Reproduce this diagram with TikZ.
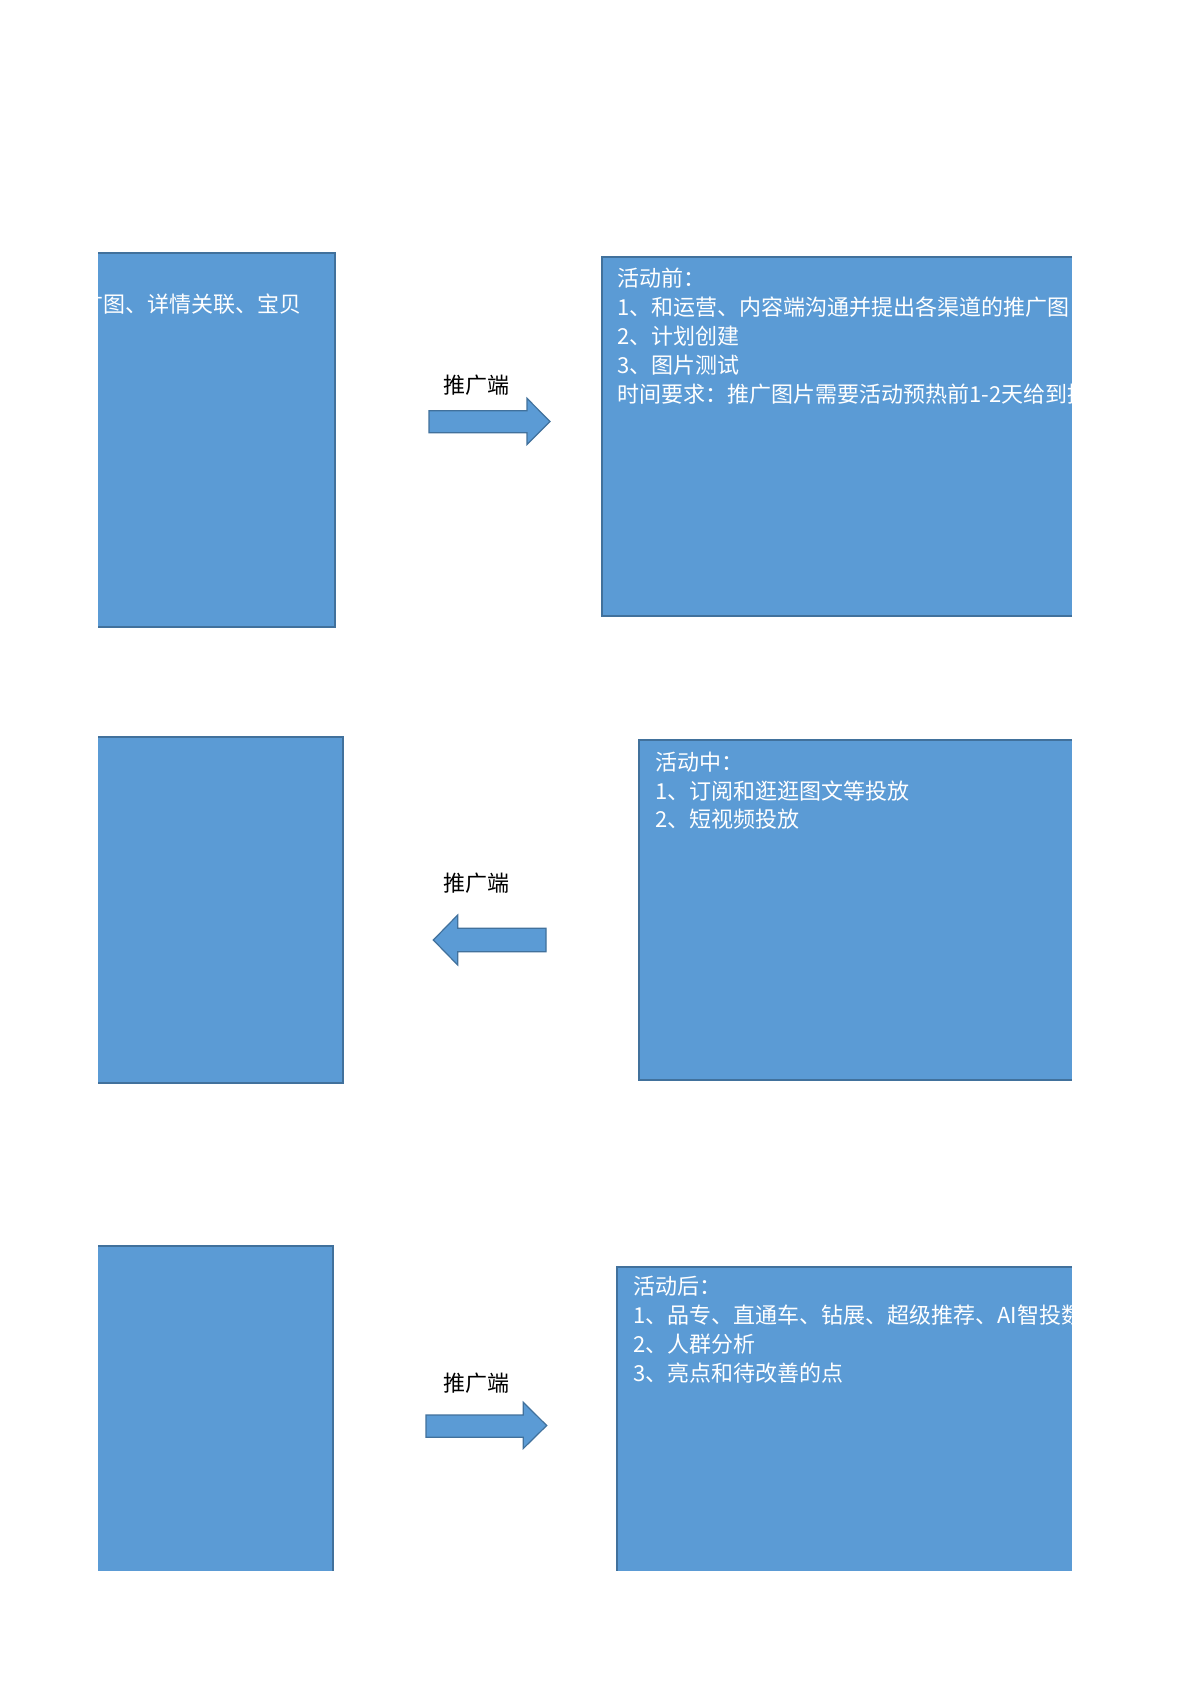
\documentclass[tikz,border=0pt]{standalone}
\usepackage{fontspec}
\setmainfont{Noto Sans CJK SC}
\definecolor{boxblue}{HTML}{5B9BD5}
\definecolor{edgeblue}{HTML}{41719C}
\begin{document}
\begin{tikzpicture}[x=1pt,y=-1pt,
  boxfill/.style={fill=boxblue},
  boxedge/.style={draw=edgeblue,line width=1.5pt},
  blockarrow/.style={fill=boxblue,draw=edgeblue,line width=1.2pt,line join=miter},
  boxtext/.style={text=white,font=\fontsize{22}{26}\selectfont,inner sep=0pt,anchor=base west},
  lab/.style={text=black,font=\fontsize{22}{26}\selectfont,inner sep=0pt,anchor=base}]
\useasboundingbox (0,0) rectangle (1200,1698);
\fill[white] (0,0) rectangle (1200,1698);

% ---------- row 1 ----------
\fill[boxfill] (98,253) rectangle (335,627);
\begin{scope}
  \clip (98,253) rectangle (335,627);
  \node[boxtext,anchor=base east] (l1t) at (302,312.4) {推广图、详情关联、宝贝};
\end{scope}
\draw[boxedge] (98,253) -- (335,253) -- (335,627) -- (98,627);

\fill[boxfill] (602,257) rectangle (1072,616);
\begin{scope}
  \clip (602,257) rectangle (1072,616);
  \node[boxtext] (r1a) at (617,286.6) {活动前：};
  \node[boxtext] (r1b) at (617,315.6) {1、和运营、内容端沟通并提出各渠道的推广图};
  \node[boxtext] (r1c) at (617,344.6) {2、计划创建};
  \node[boxtext] (r1d) at (617,373.4) {3、图片测试};
  \node[boxtext] (r1e) at (617,402) {时间要求：推广图片需要活动预热前1-2天给到推广端};
\end{scope}
\draw[boxedge] (1072,257) -- (602,257) -- (602,616) -- (1072,616);

\node[lab] (lab1) at (476.7,393) {推广端};
\draw[blockarrow] (429,410.7) -- (527,410.7) -- (527,398.3) -- (550,421.5)
  -- (527,444.5) -- (527,432.7) -- (429,432.7) -- cycle;

% ---------- row 2 ----------
\fill[boxfill] (98,737) rectangle (343,1083);
\draw[boxedge] (98,737) -- (343,737) -- (343,1083) -- (98,1083);

\fill[boxfill] (639,740) rectangle (1072,1080);
\begin{scope}
  \clip (639,740) rectangle (1072,1080);
  \node[boxtext] (r2a) at (655,770) {活动中：};
  \node[boxtext] (r2b) at (655,799) {1、订阅和逛逛图文等投放};
  \node[boxtext] (r2c) at (655,827.6) {2、短视频投放};
\end{scope}
\draw[boxedge] (1072,740) -- (639,740) -- (639,1080) -- (1072,1080);

\node[lab] (lab2) at (476.7,891.6) {推广端};
\draw[blockarrow] (546,928.3) -- (457.7,928.3) -- (457.7,915) -- (433.3,940)
  -- (457.7,965) -- (457.7,951.7) -- (546,951.7) -- cycle;

% ---------- row 3 ----------
\fill[boxfill] (98,1246) rectangle (333,1571);
\draw[boxedge] (98,1246) -- (333,1246) -- (333,1571);

\fill[boxfill] (617,1267) rectangle (1072,1571);
\begin{scope}
  \clip (617,1267) rectangle (1072,1571);
  \node[boxtext] (r3a) at (633,1294.4) {活动后：};
  \node[boxtext] (r3b) at (633,1323.4) {1、品专、直通车、钻展、超级推荐、AI智投数据};
  \node[boxtext] (r3c) at (633,1352.4) {2、人群分析};
  \node[boxtext] (r3d) at (633,1381.4) {3、亮点和待改善的点};
\end{scope}
\draw[boxedge] (1072,1267) -- (617,1267) -- (617,1571);

\node[lab] (lab3) at (476.3,1391.4) {推广端};
\draw[blockarrow] (426,1415) -- (523.3,1415) -- (523.3,1402.3) -- (546.7,1425.5)
  -- (523.3,1448.5) -- (523.3,1437.3) -- (426,1437.3) -- cycle;
\end{tikzpicture}
\end{document}
